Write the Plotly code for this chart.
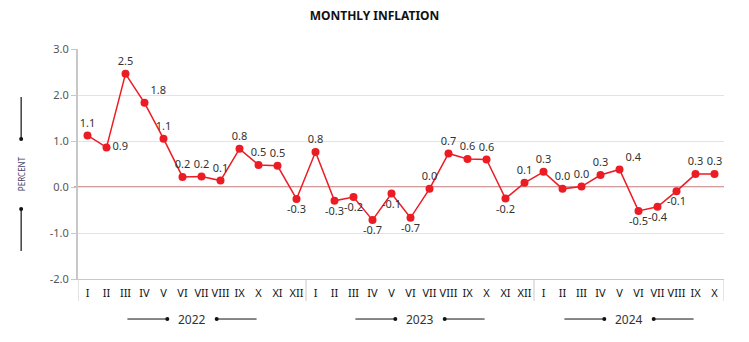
import plotly.graph_objects as go

# ---- data ----
years = ["2022", "2023", "2024"]
months_per_year = [12, 12, 10]
month_names = ["I", "II", "III", "IV", "V", "VI", "VII", "VIII", "IX", "X", "XI", "XII"]

inflation_2022 = [1.12, 0.86, 2.46, 1.83, 1.05, 0.22, 0.23, 0.14, 0.83, 0.48, 0.46, -0.26]
inflation_2023 = [0.76, -0.30, -0.22, -0.72, -0.14, -0.67, -0.04, 0.73, 0.61, 0.60, -0.25, 0.09]
inflation_2024 = [0.33, -0.04, 0.01, 0.26, 0.38, -0.52, -0.43, -0.09, 0.28, 0.28]

label_pos_2022 = ["top center", "middle right", "top center", "top right", "top center", "top center",
                  "top center", "top center", "top center", "top center", "top center", "bottom center"]
label_pos_2023 = ["top center", "bottom center", "bottom center", "bottom center", "bottom center", "bottom center",
                  "top center", "top center", "top center", "top center", "bottom center", "top center"]
label_pos_2024 = ["top center", "top center", "top center", "top center", "top right", "bottom center",
                  "bottom center", "bottom center", "top center", "top center"]

values = inflation_2022 + inflation_2023 + inflation_2024
positions = label_pos_2022 + label_pos_2023 + label_pos_2024
x_idx = list(range(len(values)))
tick_labels = []
for n in months_per_year:
    tick_labels += month_names[:n]
labels = [f"{v:.1f}".replace("-0.0", "0.0") for v in values]

RED = "#ec1c24"
GRID = "#e3e3e3"
AXIS = "#c8c8c8"
ZERO = "#a83a3a"
FONT = "Noto Sans"

fig = go.Figure()
fig.add_trace(go.Scatter(
    x=x_idx, y=values, mode="lines+markers+text",
    line=dict(color=RED, width=1.5),
    marker=dict(color=RED, size=8),
    text=labels, textposition=positions,
    textfont=dict(family=FONT, size=11, color="#333333"),
    cliponaxis=False, hoverinfo="skip", showlegend=False,
))

shapes = []
annotations = []
# zero reference line
shapes.append(dict(type="line", xref="paper", yref="y", x0=-0.006, x1=1, y0=0, y1=0,
                   line=dict(color=ZERO, width=1), layer="below"))

# year group dividers in x label area
start = 0
bounds = [-0.5]
for n in months_per_year:
    start += n
    bounds.append(start - 0.5)
for b in bounds:
    shapes.append(dict(type="line", xref="x", yref="paper", x0=b, x1=b, y0=0, y1=-0.096,
                       line=dict(color=AXIS, width=1)))

# year labels with decorative lines
ypos = -0.174
for i, yr in enumerate(years):
    c = (bounds[i] + bounds[i + 1]) / 2
    annotations.append(dict(x=c, y=ypos, xref="x", yref="paper", text=yr, showarrow=False,
                            font=dict(family=FONT, size=12, color="#333333"),
                            xanchor="center", yanchor="middle"))
    for sgn in (-1, 1):
        x_in = c + sgn * 1.3
        x_out = c + sgn * 3.4
        shapes.append(dict(type="line", xref="x", yref="paper", x0=x_out, x1=x_in, y0=ypos, y1=ypos,
                           line=dict(color="#111111", width=1)))
        shapes.append(dict(type="circle", xref="x", yref="paper", xsizemode="pixel", ysizemode="pixel",
                           xanchor=x_in, yanchor=ypos, x0=-2, x1=2, y0=-2, y1=2,
                           fillcolor="#111111", line=dict(width=0)))

# y title decoration
px = -0.088
shapes.append(dict(type="line", xref="paper", yref="paper", x0=px, x1=px, y0=0.791, y1=0.609,
                   line=dict(color="#111111", width=1.2)))
shapes.append(dict(type="line", xref="paper", yref="paper", x0=px, x1=px, y0=0.304, y1=0.122,
                   line=dict(color="#111111", width=1.2)))
for yy in (0.609, 0.304):
    shapes.append(dict(type="circle", xref="paper", yref="paper", xsizemode="pixel", ysizemode="pixel",
                       xanchor=px, yanchor=yy, x0=-2, x1=2, y0=-2, y1=2,
                       fillcolor="#111111", line=dict(width=0)))
annotations.append(dict(x=px, y=0.4565, xref="paper", yref="paper", text="PERCENT", showarrow=False,
                        textangle=-90, font=dict(family=FONT, size=8, color="#444466"),
                        xanchor="center", yanchor="middle"))

fig.update_layout(
    width=749, height=342,
    margin=dict(l=78, r=25, t=49, b=63),
    paper_bgcolor="white", plot_bgcolor="white",
    title=dict(text="<b>MONTHLY INFLATION</b>", x=0.5, xanchor="center", y=0.955, yanchor="middle",
               font=dict(family=FONT, size=12, color="#111111")),
    shapes=shapes, annotations=annotations,
    xaxis=dict(range=[-0.5, len(values) - 0.5], tickmode="array", tickvals=x_idx, ticktext=tick_labels,
               showgrid=False, zeroline=False, showline=True, linecolor=AXIS, linewidth=1,
               ticks="outside", ticklen=4, tickcolor="rgba(0,0,0,0)",
               tickfont=dict(family=FONT, size=11, color="#111111"), fixedrange=True),
    yaxis=dict(range=[-2, 3], tickmode="array", tickvals=[-2, -1, 0, 1, 2, 3],
               ticktext=["-2.0", "-1.0", "0.0", "1.0", "2.0", "3.0"],
               showgrid=True, gridcolor=GRID, gridwidth=1,
               zeroline=False,
               showline=True, linecolor=AXIS, linewidth=2,
               ticks="outside", ticklen=5, tickcolor=AXIS,
               tickfont=dict(family=FONT, size=11, color="#555555"), fixedrange=True),
)

fig.write_html("out.html")
